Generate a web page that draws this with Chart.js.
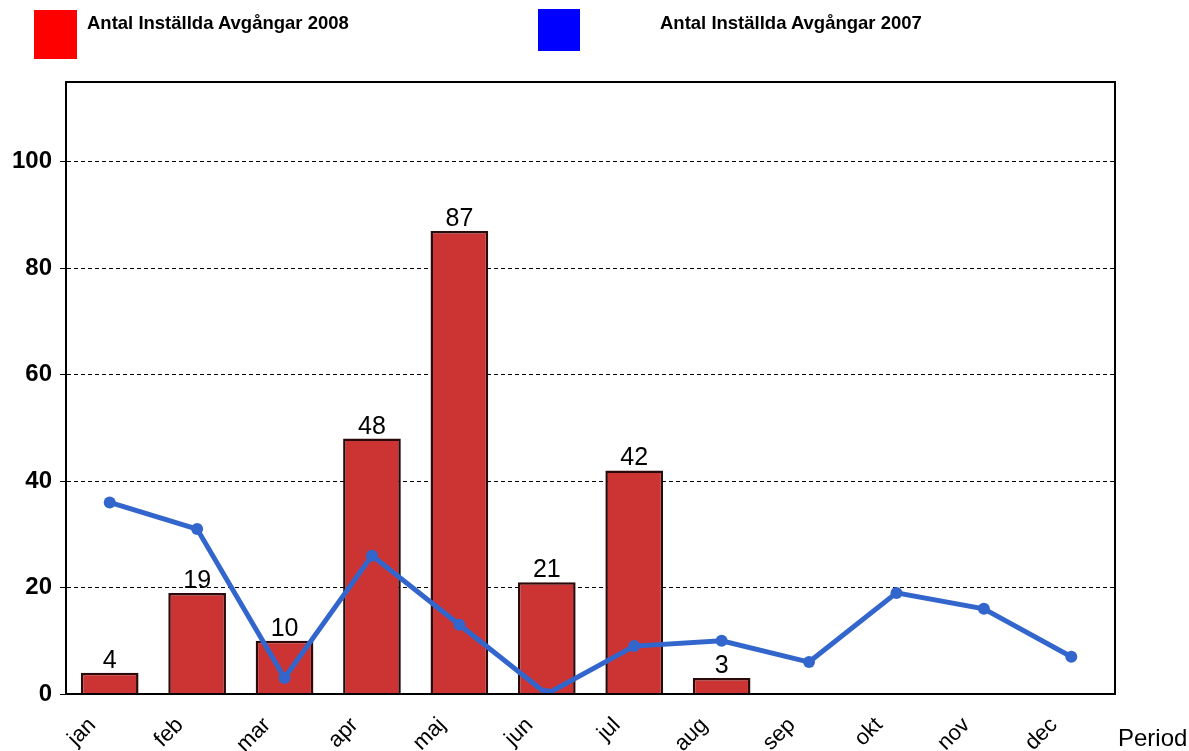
<!DOCTYPE html>
<html>
<head>
<meta charset="utf-8">
<script src="https://cdn.jsdelivr.net/npm/chart.js@4/dist/chart.umd.min.js"></script>
<style>
  body{ margin:0; background:#fff; font-family:"Liberation Sans", Arial, sans-serif; }
  #wrap{ position:relative; width:1189px; height:751px; }
  canvas{ position:absolute; left:0; top:0; }
  .sw{ position:absolute; }
  .lt{ position:absolute; font-weight:bold; font-size:18.5px; color:#000; white-space:nowrap; }
  #period{ position:absolute; left:1118px; top:726px; font-size:24px; line-height:24px; color:#000; }
</style>
</head>
<body>
<div id="wrap">
  <canvas id="chart" width="1189" height="751"></canvas>
  <div class="sw" style="left:34px;top:10px;width:43px;height:49px;background:#ff0000"></div>
  <div class="lt" style="left:87px;top:12px">Antal Inställda Avgångar 2008</div>
  <div class="sw" style="left:538px;top:9px;width:42px;height:42px;background:#0000ff"></div>
  <div class="lt" style="left:660px;top:12px">Antal Inställda Avgångar 2007</div>
  <div id="period">Period</div>
</div>
<script>
const months = ["jan","feb","mar","apr","maj","jun","jul","aug","sep","okt","nov","dec"];
const cancelled2008 = [4, 19, 10, 48, 87, 21, 42, 3, null, null, null, null];
const cancelled2007 = [36, 31, 3, 26, 13, 0, 9, 10, 6, 19, 16, 7];
const yTicks = [0, 20, 40, 60, 80, 100];

const FONT = "'Liberation Sans', Arial, sans-serif";

// value labels above bars, rotated month labels, box round the plot area
const extras = {
  id: "extras",
  afterDatasetsDraw(chart){
    const ctx = chart.ctx;
    const meta = chart.getDatasetMeta(1);
    ctx.save();
    ctx.font = "25px " + FONT;
    ctx.fillStyle = "#000";
    ctx.textAlign = "center";
    ctx.textBaseline = "alphabetic";
    meta.data.forEach((bar, i) => {
      const v = cancelled2008[i];
      if (v === null) return;
      ctx.fillText(String(v), bar.x, bar.y - 5);
    });

    const xs = chart.scales.x;
    ctx.font = "22px " + FONT;
    ctx.textAlign = "right";
    months.forEach((m, i) => {
      const x = xs.getPixelForTick(i);
      ctx.save();
      ctx.translate(x - 13, 726);
      ctx.rotate(-Math.PI / 4);
      ctx.fillText(m, 0, 0);
      ctx.restore();
    });

    const a = chart.chartArea;
    ctx.strokeStyle = "#000";
    ctx.lineWidth = 2;
    ctx.strokeRect(a.left, a.top, a.right - a.left, a.bottom - a.top);
    ctx.restore();
  }
};

new Chart(document.getElementById("chart"), {
  data: {
    labels: months,
    datasets: [
      {
        type: "line",
        label: "Antal Inställda Avgångar 2007",
        data: cancelled2007,
        borderColor: "#3366cc",
        backgroundColor: "#3366cc",
        borderWidth: 5,
        pointRadius: 6,
        pointBorderWidth: 0,
        tension: 0,
        order: 0
      },
      {
        type: "bar",
        label: "Antal Inställda Avgångar 2008",
        data: cancelled2008,
        backgroundColor: "#cc3333",
        borderColor: "#2a0a0a",
        borderWidth: 2.5,
        categoryPercentage: 1,
        barPercentage: 0.66,
        order: 1
      }
    ]
  },
  options: {
    responsive: false,
    animation: false,
    layout: { padding: { top: 82, right: 74, left: 0, bottom: 0 } },
    plugins: { legend: { display: false }, tooltip: { enabled: false } },
    scales: {
      x: {
        offset: true,
        grid: { display: false, drawTicks: false },
        border: { color: "#000", width: 2 },
        ticks: { display: false },
        afterFit: (s) => { s.height = 57; }
      },
      y: {
        min: 0, max: 115,
        border: { color: "#000", width: 2, dash: [4, 3] },
        grid: {
          color: "#000", lineWidth: 1, tickLength: 6,
          tickColor: "#000", tickBorderDash: [1, 0]
        },
        afterBuildTicks: (s) => { s.ticks = yTicks.map(v => ({ value: v })); },
        ticks: {
          padding: 8, color: "#000",
          font: { size: 24, weight: "bold", family: FONT }
        },
        afterFit: (s) => { s.width = 66; }
      }
    }
  },
  plugins: [extras]
});
</script>
</body>
</html>
